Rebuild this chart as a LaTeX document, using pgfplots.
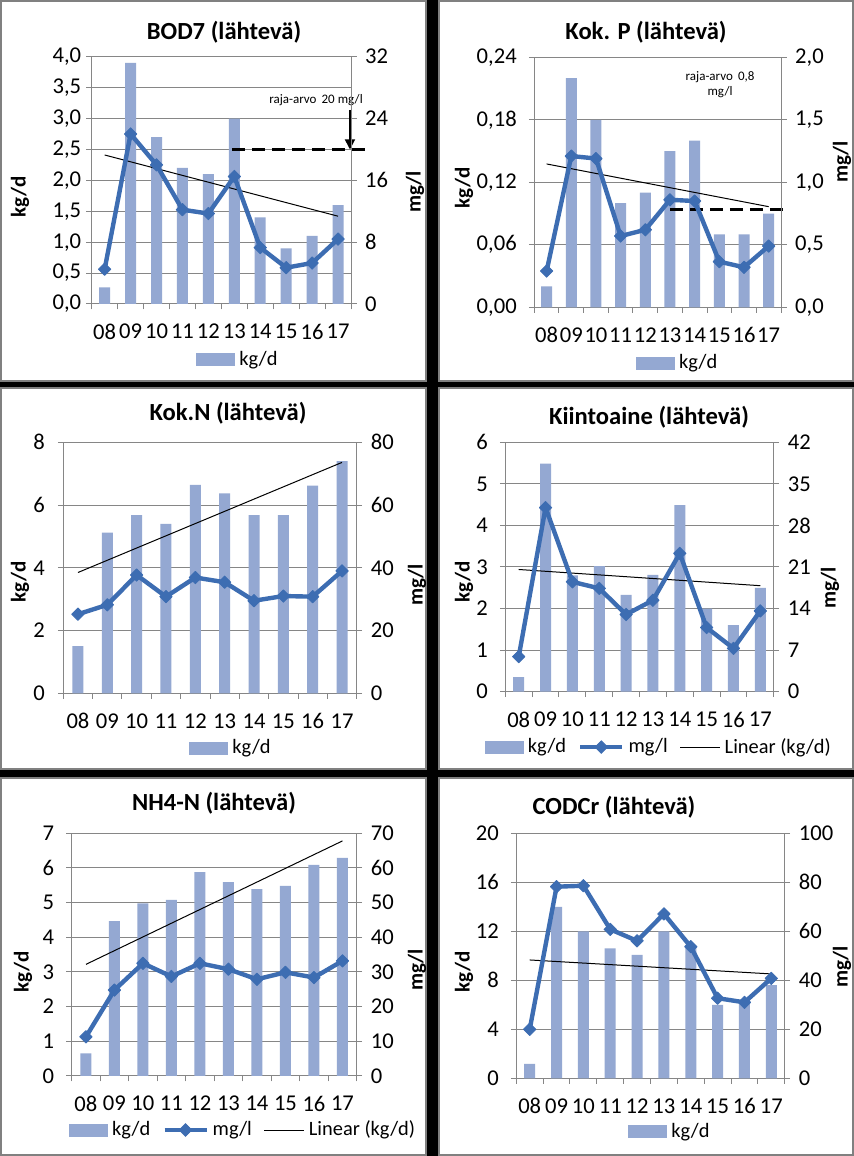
\documentclass[border=0pt]{standalone}
\usepackage{fontspec}
\setmainfont{Carlito}
\usepackage{pgfplots}
\pgfplotsset{compat=1.18}
\usetikzlibrary{arrows.meta}
\definecolor{barc}{RGB}{148,168,210}
\definecolor{linec}{RGB}{61,109,178}
\definecolor{axisc}{RGB}{134,134,134}
\definecolor{framec}{RGB}{128,128,128}
\newcommand\tickfont{\fontsize{11.3}{13}\selectfont}
\newcommand\titlefont{\fontsize{12.3}{14}\selectfont\bfseries}
\newcommand\labfont{\fontsize{10.5}{12}\selectfont\bfseries}
\newcommand\legfont{\fontsize{10.2}{12}\selectfont}
\newcommand\notefont{\fontsize{6.5}{7.5}\selectfont}
\pgfplotsset{
  base/.style={
    scale only axis, anchor=south west, clip=false,
    xmin=-0.5, xmax=9.5, ymin=0,
    xtick={-0.5,0.5,1.5,2.5,3.5,4.5,5.5,6.5,7.5,8.5,9.5},
    x tick label as interval,
    xticklabels={08,09,10,11,12,13,14,15,16,17},
    tick align=outside,
    major tick length=2.75pt,
    tick style={draw=axisc, line width=0.5pt},
    axis line style={-, draw=axisc, line width=0.5pt},
    x axis line style={-}, y axis line style={-},
    ticklabel style={font=\tickfont},
    /pgf/number format/assume math mode=true,
  },
  leftax/.style={base,
    axis x line*=bottom, axis y line*=left,
    ymajorgrids, grid style={draw=axisc, line width=0.5pt},
    xticklabel style={yshift=-3.8pt},
    legend style={draw=none, fill=none, font=\legfont, legend columns=-1,
      /tikz/every even column/.append style={column sep=4pt},
      anchor=center, inner sep=0pt},
  },
  rightax/.style={base, axis x line=none, axis y line*=right,
    yticklabel style={xshift=0.8pt}},
  barst/.style={ybar, bar width=5.5pt, fill=barc, draw=none,
    legend image code/.code={\fill[barc] (0pt,-3.25pt) rectangle (19.5pt,3.25pt);}},
  trendst/.style={black, line width=0.5pt, sharp plot, no marks,
    legend image code/.code={\draw[black, line width=0.5pt] (0pt,0pt) -- (20pt,0pt);}},
  linest/.style={linec, line width=2.2pt, line join=round, sharp plot, mark=square*, mark size=2.2pt,
    mark options={rotate=45, solid, line width=0.4pt, fill=linec, draw=linec}},
  limitst/.style={black, line width=1.5pt, dash pattern=on 6.5pt off 3.5pt, no marks, sharp plot},
}
\begin{document}
\begin{tikzpicture}
\path[use as bounding box] (0,0) rectangle (427pt,578pt);
\fill[black] (0,0) rectangle (427pt,578pt);
\foreach \xa/\ya/\xb/\yb in {0/387/213.5/578, 219/387/427/578, 0/193/213.5/384.5, 219/193/427/384.5, 0/0/213.5/189.5, 219/0/427/189.5}{
  \fill[white] (\xa pt,\ya pt) rectangle (\xb pt,\yb pt);
  \draw[framec, line width=1pt] (\xa pt+0.5pt,\ya pt+0.5pt) rectangle (\xb pt-0.5pt,\yb pt-0.5pt);
}

% ---------- Panel 1: BOD7 ----------
\begin{axis}[leftax, at={(45.85pt,426pt)}, width=129.65pt, height=123.65pt,
  ymax=4, ytick={0,0.5,1,1.5,2,2.5,3,3.5,4},
  yticklabels={{0,0},{0,5},{1,0},{1,5},{2,0},{2,5},{3,0},{3,5},{4,0}},
  yticklabel style={xshift=1pt},
  legend style={at={(0.568,-0.226)}}]
\addplot[barst] coordinates {(0,0.27) (1,3.9) (2,2.7) (3,2.2) (4,2.1) (5,3.0) (6,1.4) (7,0.9) (8,1.1) (9,1.6)};
\addlegendentry{kg/d}
\addplot[trendst, forget plot] coordinates {(0,2.41) (9,1.42)};
\addplot[limitst, forget plot] coordinates {(4.91,2.5) (10.16,2.5)};
\draw[-{Triangle[length=5pt,width=5pt]}, line width=0.8pt] (axis cs:9.46,3.14) -- (axis cs:9.46,2.5);
\node[font=\notefont] at (axis cs:8.15,3.3) {raja-arvo\, 20 mg/l};
\end{axis}
\begin{axis}[rightax, at={(45.85pt,426pt)}, width=129.65pt, height=123.65pt,
  ymax=32, ytick={0,8,16,24,32}]
\addplot[linest] coordinates {(0,4.5) (1,22) (2,18) (3,12.2) (4,11.7) (5,16.5) (6,7.3) (7,4.7) (8,5.3) (9,8.4)};
\end{axis}

% ---------- Panel 2: Kok. P ----------
\begin{axis}[leftax, at={(267.15pt,424.35pt)}, width=123.35pt, height=125pt,
  ymax=0.24, ytick={0,0.06,0.12,0.18,0.24},
  yticklabels={{0,00},{0,06},{0,12},{0,18},{0,24}},
  yticklabel style={xshift=-2.5pt},
  legend style={at={(0.585,-0.223)}}]
\addplot[barst] coordinates {(0,0.02) (1,0.22) (2,0.18) (3,0.10) (4,0.11) (5,0.15) (6,0.16) (7,0.07) (8,0.07) (9,0.09)};
\addlegendentry{kg/d}
\addplot[trendst, forget plot] coordinates {(0,0.1376) (9,0.0966)};
\addplot[limitst, forget plot] coordinates {(5.0,0.0934) (9.74,0.0934)};
\node[font=\notefont, align=center] at (axis cs:7.03,0.214) {raja-arvo\, 0,8\\mg/l};
\end{axis}
\begin{axis}[rightax, at={(267.15pt,424.35pt)}, width=123.35pt, height=125pt,
  ymax=2, ytick={0,0.5,1,1.5,2},
  yticklabels={{0,0},{0,5},{1,0},{1,5},{2,0}}]
\addplot[linest] coordinates {(0,0.29) (1,1.21) (2,1.19) (3,0.57) (4,0.62) (5,0.86) (6,0.85) (7,0.365) (8,0.32) (9,0.49)};
\end{axis}

% ---------- Panel 3: Kok.N ----------
\begin{axis}[leftax, at={(31.65pt,231.35pt)}, width=146.7pt, height=125.5pt,
  ymax=8, ytick={0,2,4,6,8},
  yticklabel style={xshift=-3pt},
  legend style={at={(0.575,-0.218)}}]
\addplot[barst] coordinates {(0,1.5) (1,5.12) (2,5.68) (3,5.40) (4,6.64) (5,6.37) (6,5.68) (7,5.68) (8,6.62) (9,7.40)};
\addlegendentry{kg/d}
\addplot[trendst, forget plot] coordinates {(0,3.85) (9,7.36)};
\end{axis}
\begin{axis}[rightax, at={(31.65pt,231.35pt)}, width=146.7pt, height=125.5pt,
  ymax=80, ytick={0,20,40,60,80}]
\addplot[linest] coordinates {(0,25.2) (1,28.2) (2,37.7) (3,30.8) (4,36.9) (5,35.4) (6,29.5) (7,31.0) (8,30.8) (9,39.0)};
\end{axis}

% ---------- Panel 4: Kiintoaine ----------
\begin{axis}[leftax, at={(252.65pt,232.15pt)}, width=134.2pt, height=124.7pt,
  ymax=6, ytick={0,1,2,3,4,5,6},
  yticklabel style={xshift=-2.5pt},
  legend style={at={(0.576,-0.222)}}]
\addplot[barst] coordinates {(0,0.35) (1,5.49) (2,2.8) (3,3.02) (4,2.33) (5,2.81) (6,4.49) (7,2.0) (8,1.6) (9,2.5)};
\addlegendentry{kg/d}
\addlegendimage{linec, legend image code/.code={\draw[linec, line width=2.2pt, mark repeat=2, mark phase=2, mark=square*, mark size=2.2pt, mark options={rotate=45, solid, line width=0.4pt, fill=linec}] plot coordinates {(0pt,0pt) (10.5pt,0pt) (21pt,0pt)};}}
\addlegendentry{mg/l}
\addplot[trendst] coordinates {(0,2.94) (9,2.55)};
\addlegendentry{Linear (kg/d)}
\end{axis}
\begin{axis}[rightax, at={(252.65pt,232.15pt)}, width=134.2pt, height=124.7pt,
  ymax=42, ytick={0,7,14,21,28,35,42}]
\addplot[linest] coordinates {(0,5.9) (1,31.0) (2,18.5) (3,17.4) (4,13.0) (5,15.4) (6,23.3) (7,10.8) (8,7.3) (9,13.6)};
\end{axis}

% ---------- Panel 5: NH4-N ----------
\begin{axis}[leftax, at={(35.85pt,40pt)}, width=142.5pt, height=121.35pt,
  ymax=7, ytick={0,1,2,3,4,5,6,7},
  yticklabel style={xshift=-2.5pt},
  legend style={at={(0.605,-0.2225)}}]
\addplot[barst] coordinates {(0,0.65) (1,4.47) (2,4.98) (3,5.08) (4,5.88) (5,5.59) (6,5.39) (7,5.48) (8,6.09) (9,6.29)};
\addlegendentry{kg/d}
\addlegendimage{linec, legend image code/.code={\draw[linec, line width=2.2pt, mark repeat=2, mark phase=2, mark=square*, mark size=2.2pt, mark options={rotate=45, solid, line width=0.4pt, fill=linec}] plot coordinates {(0pt,0pt) (10.5pt,0pt) (21pt,0pt)};}}
\addlegendentry{mg/l}
\addplot[trendst] coordinates {(0,3.22) (9,6.78)};
\addlegendentry{Linear (kg/d)}
\end{axis}
\begin{axis}[rightax, at={(35.85pt,40pt)}, width=142.5pt, height=121.35pt,
  ymax=70, ytick={0,10,20,30,40,50,60,70}]
\addplot[linest] coordinates {(0,11.3) (1,24.8) (2,32.5) (3,28.7) (4,32.5) (5,30.8) (6,27.9) (7,29.9) (8,28.4) (9,33.2)};
\end{axis}

% ---------- Panel 6: CODCr ----------
\begin{axis}[leftax, at={(258.15pt,38.85pt)}, width=134.2pt, height=122.5pt,
  ymax=20, ytick={0,4,8,12,16,20},
  yticklabel style={xshift=-2.5pt},
  legend style={at={(0.576,-0.219)}}]
\addplot[barst] coordinates {(0,1.17) (1,14.0) (2,12.0) (3,10.6) (4,10.07) (5,12.0) (6,10.7) (7,6.0) (8,6.4) (9,7.6)};
\addlegendentry{kg/d}
\addplot[trendst, forget plot] coordinates {(0,9.66) (9,8.52)};
\end{axis}
\begin{axis}[rightax, at={(258.15pt,38.85pt)}, width=134.2pt, height=122.5pt,
  ymax=100, ytick={0,20,40,60,80,100}]
\addplot[linest] coordinates {(0,20) (1,78.2) (2,78.6) (3,60.8) (4,56.1) (5,67.1) (6,53.7) (7,32.7) (8,31.0) (9,40.8)};
\end{axis}

% ---------- Titles ----------
\node[font=\titlefont] at (112pt,562pt) {BOD7 (lähtevä)};
\node[font=\titlefont] at (323pt,562pt) {Kok. P (lähtevä)};
\node[font=\titlefont] at (114pt,371.5pt) {Kok.N (lähtevä)};
\node[font=\titlefont] at (324.5pt,369.5pt) {Kiintoaine (lähtevä)};
\node[font=\titlefont] at (107pt,176.5pt) {NH4-N (lähtevä)};
\node[font=\titlefont] at (307pt,174.5pt) {CODCr (lähtevä)};

% ---------- Axis labels ----------
\node[font=\labfont, rotate=90] at (10pt,479.5pt) {kg/d};
\node[font=\labfont, rotate=90] at (207.5pt,482pt) {mg/l};
\node[font=\labfont, rotate=90] at (232pt,484pt) {kg/d};
\node[font=\labfont, rotate=90] at (421pt,497pt) {mg/l};
\node[font=\labfont, rotate=90] at (10pt,287pt) {kg/d};
\node[font=\labfont, rotate=90] at (208.5pt,285.5pt) {mg/l};
\node[font=\labfont, rotate=90] at (232pt,287pt) {kg/d};
\node[font=\labfont, rotate=90] at (415pt,284pt) {mg/l};
\node[font=\labfont, rotate=90] at (11.5pt,92pt) {kg/d};
\node[font=\labfont, rotate=90] at (208.5pt,93pt) {mg/l};
\node[font=\labfont, rotate=90] at (232pt,92pt) {kg/d};
\node[font=\labfont, rotate=90] at (421pt,94.5pt) {mg/l};
\end{tikzpicture}
\end{document}
